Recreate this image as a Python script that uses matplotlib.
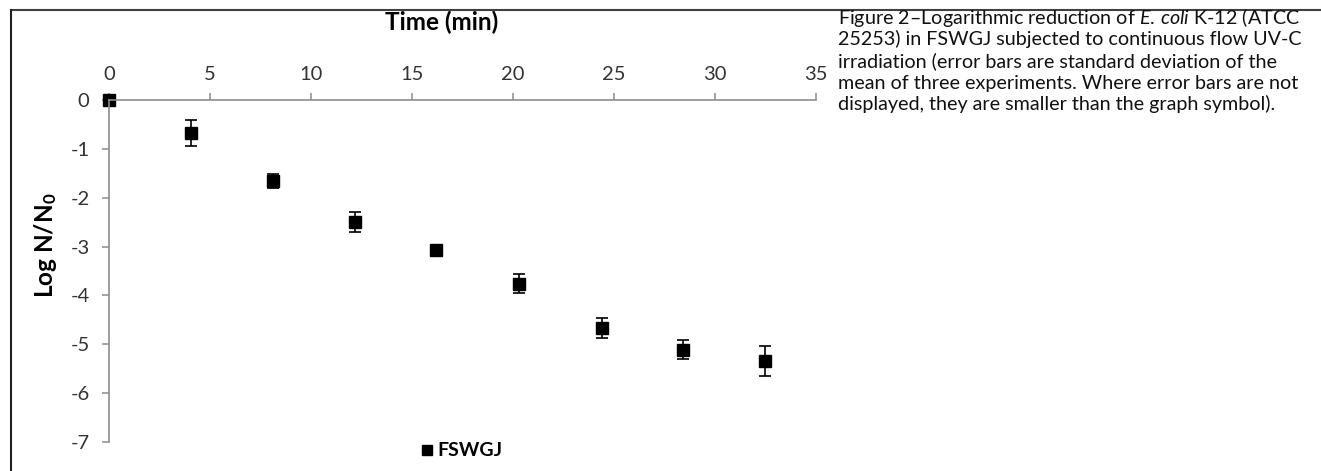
import matplotlib
matplotlib.use("Agg")
from matplotlib import pyplot as plt
from matplotlib.lines import Line2D

# data
time_min = [0, 4.05, 8.1, 12.2, 16.2, 20.3, 24.4, 28.4, 32.5]
log_reduction = [0, -0.68, -1.66, -2.5, -3.07, -3.76, -4.67, -5.11, -5.34]
std_dev = [0, 0.27, 0.15, 0.2, 0, 0.19, 0.2, 0.2, 0.31]
series_name = "FSWGJ"
x_ticks = [0, 5, 10, 15, 20, 25, 30, 35]
y_ticks = [0, -1, -2, -3, -4, -5, -6, -7]

caption_lines = [
    "Figure 2\u2013Logarithmic reduction of $\\it{E.\\,coli}$ K-12 (ATCC",
    "25253) in FSWGJ subjected to continuous flow UV-C",
    "irradiation (error bars are standard deviation of the",
    "mean of three experiments. Where error bars are not",
    "displayed, they are smaller than the graph symbol).",
]

plt.rcParams['font.family'] = ['Lato', 'DejaVu Sans']
plt.rcParams['axes.unicode_minus'] = False
plt.rcParams['mathtext.fontset'] = 'custom'
plt.rcParams['mathtext.rm'] = 'Lato'
plt.rcParams['mathtext.it'] = 'Lato:italic'
plt.rcParams['mathtext.bf'] = 'Lato:bold'

fig = plt.figure(figsize=(13.21, 4.71), dpi=100)
ax = fig.add_axes([0.0825, 0.0616, 0.5352, 0.7261])

ax.errorbar(time_min, log_reduction, yerr=std_dev, fmt='s', color='black',
            markersize=8.5, ecolor='black', elinewidth=1.2, capsize=4,
            capthick=1.2, clip_on=False)

ax.set_xlim(0, 35)
ax.set_ylim(-7, 0)
ax.set_xticks(x_ticks)
ax.set_yticks(y_ticks)
ax.xaxis.tick_top()
ax.xaxis.set_label_position('top')
ax.set_xlabel('Time (min)', fontsize=17.5, fontweight='bold', va='center')
ax.xaxis.set_label_coords(0.471, 1.228)
ax.set_ylabel('Log N/N$_\\mathbf{0}$', fontsize=17.5, fontweight='bold', va='center')
ax.yaxis.set_label_coords(-0.09, 0.576)

for side in ['right', 'bottom']:
    ax.spines[side].set_visible(False)
for side in ['top', 'left']:
    ax.spines[side].set_color('#8c8c8c')
    ax.spines[side].set_linewidth(1.2)
ax.tick_params(axis='both', colors='#8c8c8c', labelcolor='#333333',
               labelsize=14.5, length=5, width=1.1, direction='out')
ax.tick_params(axis='x', pad=7)
ax.tick_params(axis='y', pad=9)

handle = Line2D([], [], marker='s', linestyle='none', color='black', markersize=7.5)
ax.legend([handle], [series_name], loc='center', bbox_to_anchor=(0.348, 0.0425),
          bbox_transform=fig.transFigure, frameon=False, handletextpad=0.05,
          handlelength=1.0, prop={'weight': 'bold', 'size': 14})

# frame lines of the chart box (top and left)
fig.add_artist(Line2D([11 / 1321, 1], [1 - 10 / 471, 1 - 10 / 471], transform=fig.transFigure,
                      color='#404040', linewidth=1.5))
fig.add_artist(Line2D([11 / 1321, 11 / 1321], [0, 1 - 10 / 471], transform=fig.transFigure,
                      color='#202020', linewidth=1.5))

# caption, one line at a time so the spacing stays even
for i, line in enumerate(caption_lines):
    fig.text(838 / 1321, 1 - (24 + 21.5 * i) / 471, line, ha='left', va='baseline',
             fontsize=14.2, color='#111111')

fig.savefig('out.png', dpi=100)
